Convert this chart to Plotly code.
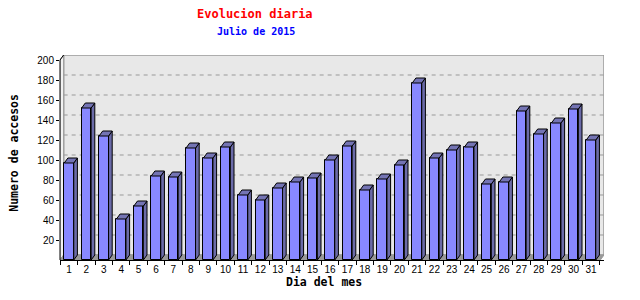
import plotly.graph_objects as go

# ---- data ----
days = list(range(1, 32))
accesos = [97, 152, 124, 41, 54, 84, 83, 112, 102, 113, 65, 60, 72, 78, 82, 100,
           114, 70, 81, 95, 177, 102, 110, 113, 76, 78, 149, 126, 137, 151, 120]
y_ticks = [20, 40, 60, 80, 100, 120, 140, 160, 180, 200]
title_text = "Evolucion diaria"
subtitle_text = "Julio de 2015"
x_title = "Dia del mes"
y_title = "Numero de accesos"

# ---- style constants ----
W = 0.546          # bar front width (category units)
DX = 0.21          # 3D depth in x (category units)
DY = 5             # 3D depth in y (value units)
XL, XR = 0.483, 31.747
YT = 205
FRONT = "#8888ff"
SIDE = "#6b6ba8"
TOP = "#7474b4"
WALL = "#e8e8e8"
MONO = "DejaVu Sans Mono"

fig = go.Figure()

# front faces
fig.add_trace(go.Bar(x=days, y=accesos, width=W,
                     marker=dict(color=FRONT, line=dict(color="black", width=1)),
                     hoverinfo="skip", showlegend=False))

# side and top faces derived from the data
sx, sy, tx, ty = [], [], [], []
for d, v in zip(days, accesos):
    r = d + W / 2
    l = d - W / 2
    sx += [r, r + DX, r + DX, r, r, None]
    sy += [0, DY, v + DY, v, 0, None]
    tx += [l, r, r + DX, l + DX, l, None]
    ty += [v, v, v + DY, v + DY, v, None]
fig.add_trace(go.Scatter(x=sx, y=sy, mode="lines", fill="toself", fillcolor=SIDE,
                         line=dict(color="black", width=1), hoverinfo="skip", showlegend=False))
fig.add_trace(go.Scatter(x=tx, y=ty, mode="lines", fill="toself", fillcolor=TOP,
                         line=dict(color="black", width=1), hoverinfo="skip", showlegend=False))

shapes = []
# back wall
shapes.append(dict(type="rect", xref="x", yref="y", x0=XL + DX, x1=XR, y0=DY, y1=YT,
                   fillcolor=WALL, line=dict(color="#999999", width=1.5), layer="below"))
# left wall
shapes.append(dict(type="path", xref="x", yref="y",
                   path=f"M {XL},0 L {XL + DX},{DY} L {XL + DX},{YT} L {XL},{YT - DY} Z",
                   fillcolor="#f2f2f2", line=dict(color="#999999", width=1), layer="below"))
# floor
shapes.append(dict(type="path", xref="x", yref="y",
                   path=f"M {XL},0 L {XR - DX},0 L {XR},{DY} L {XL + DX},{DY} Z",
                   fillcolor="#999999", line=dict(color="#999999", width=1), layer="below"))
# dashed grid on the back wall
for t in y_ticks[:-1]:
    shapes.append(dict(type="line", xref="x", yref="y", x0=XL + DX, x1=XR, y0=t + DY, y1=t + DY,
                       line=dict(color="#999999", width=1, dash="4px,4px"), layer="below"))
# front left axis edge: up to the top tick, then the 3D diagonal to the back wall
dxp = DX / (XR - XL)
ytop = y_ticks[-1] / YT
shapes.append(dict(type="path", xref="paper", yref="paper",
                   path=f"M 0,0 L 0,{ytop} L {dxp},1",
                   line=dict(color="black", width=1), layer="above"))

annotations = [
    dict(text=title_text, xref="paper", yref="paper", x=0.358, y=1.202, showarrow=False,
         xanchor="center", yanchor="middle", font=dict(family=MONO, size=12, color="#ff0000", weight="bold")),
    dict(text=subtitle_text, xref="paper", yref="paper", x=0.36, y=1.114, showarrow=False,
         xanchor="center", yanchor="middle", font=dict(family=MONO, size=10, color="#0000ff", weight="bold")),
    dict(text=x_title, xref="paper", yref="paper", x=0.485, y=-0.106, showarrow=False,
         xanchor="center", yanchor="middle", font=dict(family=MONO, size=11.5, color="black", weight="bold")),
    dict(text=y_title, xref="paper", yref="paper", x=-0.0846, y=0.523, showarrow=False, textangle=-90,
         xanchor="center", yanchor="middle", font=dict(family=MONO, size=11.5, color="black", weight="bold")),
]

fig.update_layout(
    width=640, height=300,
    margin=dict(l=60, r=36, t=55, b=40),
    paper_bgcolor="white", plot_bgcolor="white",
    shapes=shapes, annotations=annotations,
    bargap=0,
    xaxis=dict(range=[XL, XR], tickmode="array", tickvals=days, ticktext=[str(d) for d in days],
               ticks="", showgrid=False, zeroline=False, showline=True, linecolor="black", linewidth=1,
               tickfont=dict(family="Liberation Sans", size=10, color="black"),
               minor=dict(tick0=0.5, dtick=1, ticks="outside", ticklen=4, tickcolor="black", showgrid=False)),
    yaxis=dict(range=[0, YT], tickmode="array", tickvals=y_ticks, ticks="outside", ticklen=3,
               tickcolor="black", showgrid=False, zeroline=False, showline=False,
               tickfont=dict(family="Liberation Sans", size=10, color="black")),
)

fig.write_html("out.html")
